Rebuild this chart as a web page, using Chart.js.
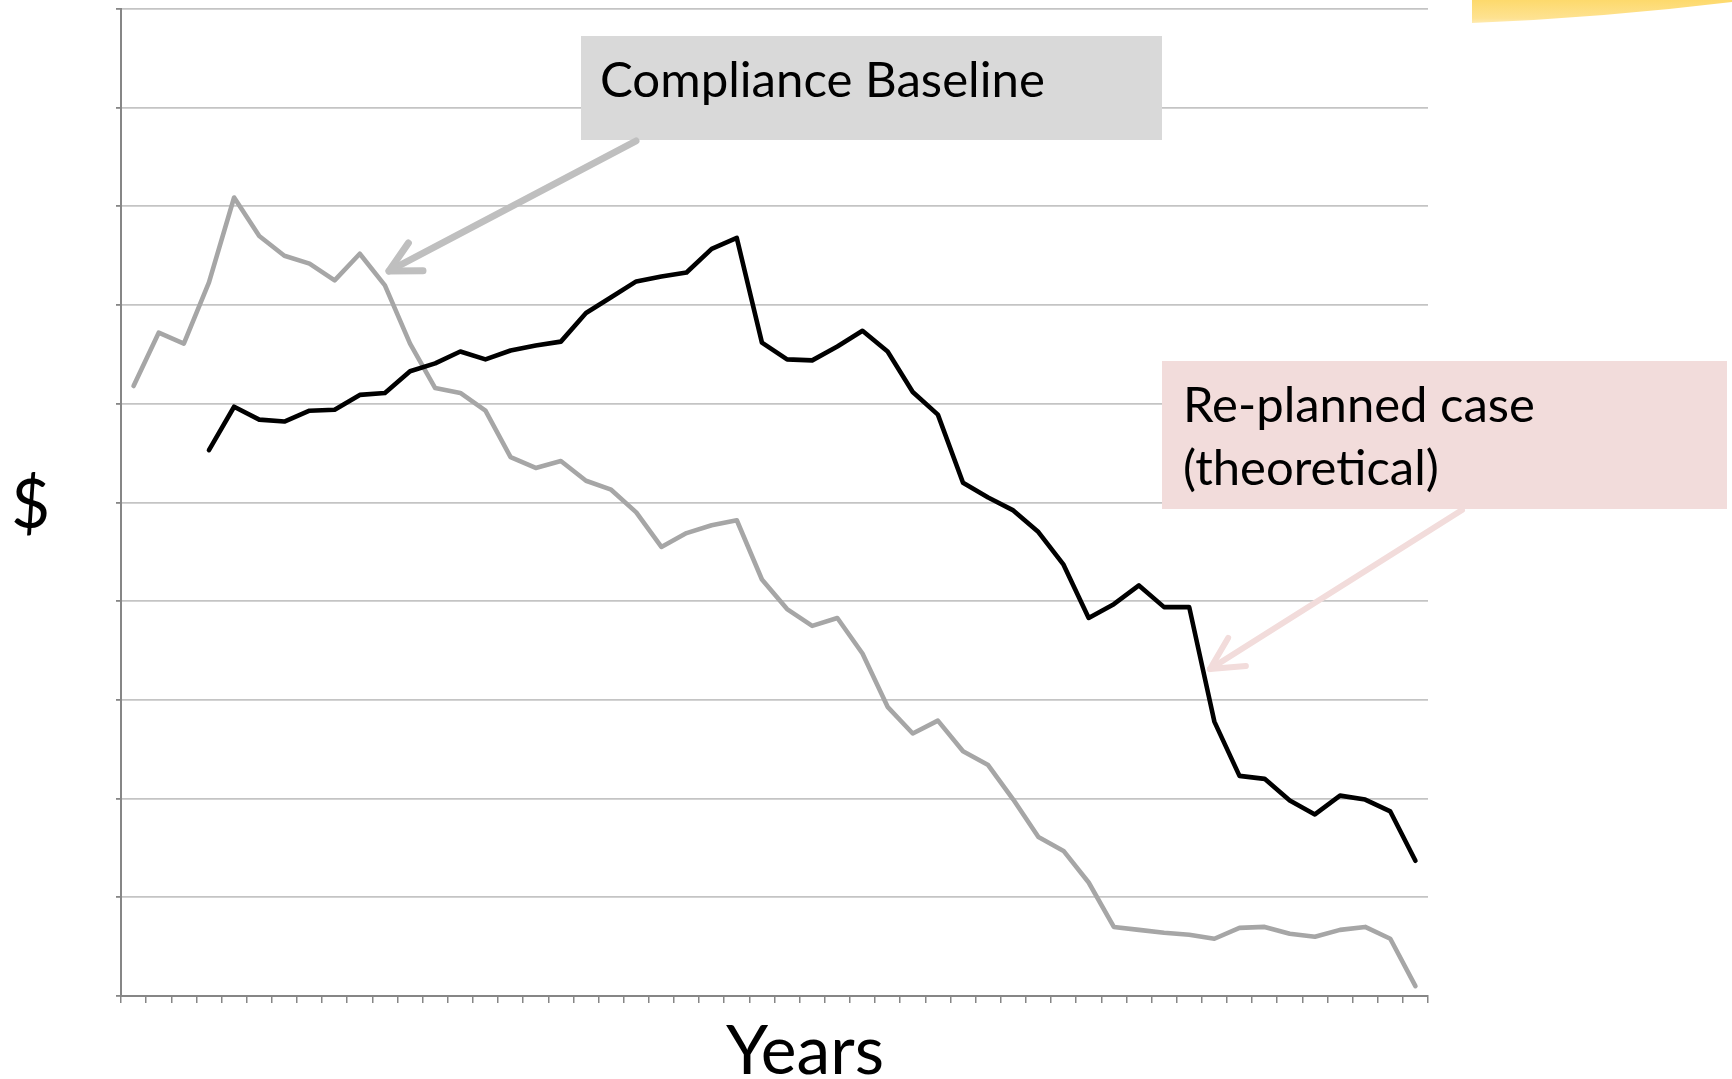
<!DOCTYPE html>
<html><head><meta charset="utf-8">
<script src="https://cdn.jsdelivr.net/npm/chart.js@4.4.1/dist/chart.umd.min.js"></script>
<style>html,body{margin:0;padding:0;background:#fff;overflow:hidden}#wrap{width:1732px;height:1079px;position:relative}</style>
</head><body><div id="wrap"><canvas id="c" width="1732" height="1079"></canvas></div>
<script>
// Categories (years, unlabeled on the axis)
const years = ["2012","2013","2014","2015","2016","2017","2018","2019","2020","2021","2022","2023","2024",
"2025","2026","2027","2028","2029","2030","2031","2032","2033","2034","2035","2036","2037","2038","2039",
"2040","2041","2042","2043","2044","2045","2046","2047","2048","2049","2050","2051","2052","2053","2054",
"2055","2056","2057","2058","2059","2060","2061","2062","2063"];

// Compliance Baseline (gray)
const complianceBaseline = [6.18,6.72,6.61,7.23,8.09,7.70,7.50,7.42,7.25,7.52,7.20,6.61,6.16,6.11,5.93,5.46,
5.35,5.42,5.22,5.13,4.90,4.55,4.69,4.77,4.82,4.22,3.92,3.75,3.83,3.47,2.93,2.66,2.79,2.48,2.34,1.99,
1.61,1.47,1.15,0.70,0.67,0.64,0.62,0.58,0.69,0.70,0.63,0.60,0.67,0.70,0.58,0.10];

// Re-planned case (theoretical) (black)
const replannedCase = [null,null,null,5.53,5.97,5.84,5.82,5.93,5.94,6.09,6.11,6.33,6.41,6.53,6.45,6.54,
6.59,6.63,6.92,7.08,7.24,7.29,7.33,7.57,7.68,6.62,6.45,6.44,6.58,6.74,6.53,6.12,5.89,5.20,5.05,4.92,
4.70,4.37,3.83,3.97,4.16,3.94,3.94,2.78,2.23,2.20,1.98,1.84,2.03,1.99,1.87,1.37];

// Value axis (unlabeled gridlines)
const yMin = 0, yMax = 10, yStep = 1;

// Texts
const yTitle = "$";
const xTitle = "Years";
const baselineLabel = "Compliance Baseline";
const replannedLabel = ["Re-planned case", "(theoretical)"];

const FONT = 'Lato, "Open Sans", sans-serif';
function fitSize(ctx, text, target){
  ctx.font = '100px ' + FONT;
  return 100 * target / ctx.measureText(text).width;
}
function arrow(ctx, x1, y1, x2, y2, color, w, head){
  ctx.strokeStyle = color; ctx.lineWidth = w; ctx.lineCap = 'round'; ctx.lineJoin = 'round';
  ctx.beginPath(); ctx.moveTo(x1, y1); ctx.lineTo(x2, y2); ctx.stroke();
  const a = Math.atan2(y1 - y2, x1 - x2);
  ctx.beginPath();
  ctx.moveTo(x2 + head * Math.cos(a + 0.48), y2 + head * Math.sin(a + 0.48));
  ctx.lineTo(x2, y2);
  ctx.lineTo(x2 + head * Math.cos(a - 0.48), y2 + head * Math.sin(a - 0.48));
  ctx.stroke();
}

const overlay = {
  id: 'overlay',
  afterDraw(chart){
    const ctx = chart.ctx;
    ctx.save();
    // yellow decoration top-right
    const g = ctx.createLinearGradient(0, 0, 0, 26);
    g.addColorStop(0, '#fdd96c'); g.addColorStop(0.7, '#fee291'); g.addColorStop(1, '#fff0c4');
    ctx.fillStyle = g;
    ctx.beginPath();
    ctx.moveTo(1472, 0); ctx.lineTo(1732, 0); ctx.lineTo(1732, 2);
    ctx.quadraticCurveTo(1600, 18, 1472, 23); ctx.closePath(); ctx.fill();

    // Compliance Baseline box
    ctx.fillStyle = '#d9d9d9';
    ctx.fillRect(581, 36, 581, 104);
    arrow(ctx, 636, 141, 389, 271, '#bfbfbf', 7, 34);
    ctx.fillStyle = '#000';
    ctx.textBaseline = 'alphabetic'; ctx.textAlign = 'left';
    let s = fitSize(ctx, baselineLabel, 445);
    ctx.font = s + 'px ' + FONT;
    ctx.fillText(baselineLabel, 600, 97);

    // Re-planned box
    ctx.fillStyle = '#f2dcdb';
    ctx.fillRect(1162, 361, 565, 148);
    arrow(ctx, 1462, 510, 1210, 669, '#f2dcdb', 6, 36);
    ctx.fillStyle = '#000';
    s = fitSize(ctx, replannedLabel[0], 352);
    ctx.font = s + 'px ' + FONT;
    ctx.fillText(replannedLabel[0], 1183, 422);
    ctx.fillText(replannedLabel[1], 1183, 485);

    // axis titles
    s = fitSize(ctx, xTitle, 158);
    ctx.font = s + 'px ' + FONT;
    ctx.textAlign = 'center';
    ctx.fillText(xTitle, 805, 1074);
    ctx.textAlign = 'left';
    ctx.fillText(yTitle, 11, 528);
    ctx.restore();
  }
};

new Chart(document.getElementById('c'), {
  type: 'line',
  data: {
    labels: years,
    datasets: [
      { label: 'Re-planned case (theoretical)', data: replannedCase, borderColor: '#000000', borderWidth: 4.6,
        pointRadius: 0, tension: 0, fill: false, spanGaps: false, borderJoinStyle: 'round', borderCapStyle: 'round' },
      { label: 'Compliance Baseline', data: complianceBaseline, borderColor: '#a6a6a6', borderWidth: 4.6,
        pointRadius: 0, tension: 0, fill: false, borderJoinStyle: 'round', borderCapStyle: 'round' }
    ]
  },
  options: {
    responsive: false, animation: false, devicePixelRatio: 1,
    layout: { padding: { left: 0, top: 9, right: 304, bottom: 0 } },
    plugins: { legend: { display: false }, tooltip: { enabled: false }, title: { display: false } },
    scales: {
      x: {
        type: 'category', offset: true,
        grid: { display: true, drawOnChartArea: false, drawTicks: true, tickLength: 7, offset: true,
                color: '#868686', tickColor: '#868686', lineWidth: 1.5 },
        border: { display: true, color: '#868686', width: 2 },
        ticks: { display: false, autoSkip: false },
        afterFit(s){ s.height = 83; }
      },
      y: {
        min: yMin, max: yMax,
        ticks: { display: false, stepSize: yStep },
        grid: { color: '#c4c4c4', lineWidth: 1.8, tickLength: 5, tickColor: '#868686', drawTicks: true },
        border: { display: true, color: '#868686', width: 2 },
        afterFit(s){ s.width = 121; }
      }
    }
  },
  plugins: [overlay]
});
</script>
</body></html>
